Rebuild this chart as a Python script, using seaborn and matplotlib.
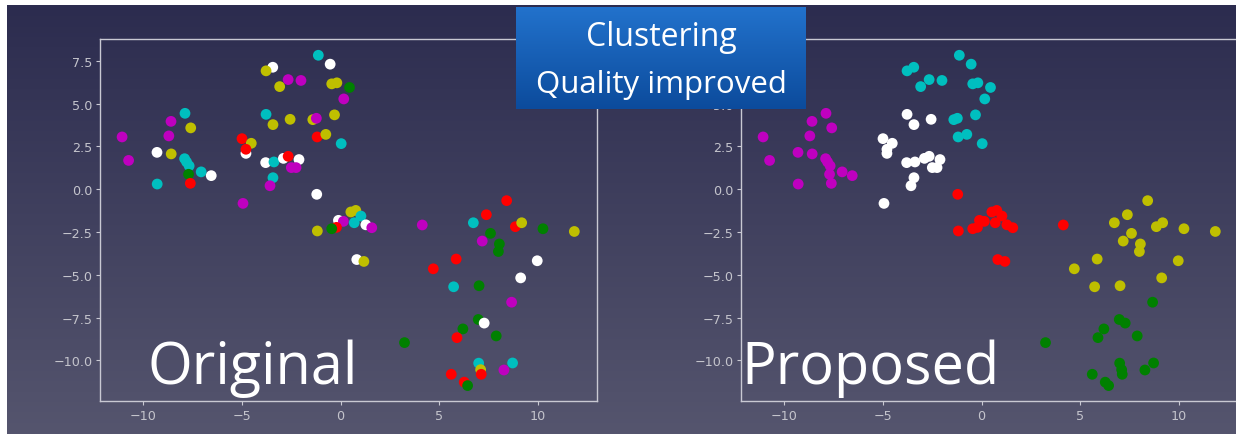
import numpy as np
import pandas as pd
import seaborn as sns
import matplotlib.pyplot as plt

# point positions (same embedding in both panels)
xs = [-1.13, -0.53, -3.44, -3.78, -2.66, -2.01, -3.09, -0.45, -0.19, 0.45,
      0.16, -7.89, -8.60, -7.60, -3.78, -2.56, -3.43, -1.41, -1.23, -0.31,
      -11.08, -8.71, -5.00, -4.53, -1.19, -0.75, 0.03, -4.80, -4.80, -10.75,
      -9.31, -8.59, -7.91, -7.81, -7.68, -7.71, -7.07, -6.56, -7.62, -9.30,
      -3.80, -3.38, -2.90, -2.66, -2.11, -2.50, -2.26, -3.43, -3.58, -1.21,
      -4.95, 0.52, 0.77, 1.03, -0.11, 0.14, 0.69, 1.28, 1.58, -0.21,
      -0.45, -1.18, 8.42, 4.14, 7.39, 6.73, 8.86, 9.18, 10.26, 11.85,
      7.60, 7.18, 8.05, 8.00, 5.86, 0.82, 1.18, 4.70, 9.97, 9.13,
      5.73, 7.02, 8.67, 6.98, 7.28, 6.20, 7.89, 5.90, 3.24, 7.00,
      7.10, 7.13, 8.28, 8.72, 5.61, 6.27, 6.44]
ys = [7.82, 7.30, 7.12, 6.91, 6.40, 6.35, 5.99, 6.15, 6.21, 5.94,
      5.27, 4.43, 3.96, 3.58, 4.37, 4.08, 3.77, 4.06, 4.14, 4.34,
      3.05, 3.11, 2.95, 2.68, 3.05, 3.20, 2.66, 2.09, 2.33, 1.68,
      2.15, 2.06, 1.78, 1.59, 1.36, 0.87, 1.01, 0.79, 0.34, 0.30,
      1.55, 1.59, 1.80, 1.92, 1.73, 1.26, 1.26, 0.67, 0.20, -0.30,
      -0.83, -1.33, -1.24, -1.57, -1.82, -1.88, -1.96, -2.08, -2.25, -2.23,
      -2.31, -2.44, -0.67, -2.09, -1.49, -1.96, -2.19, -1.96, -2.31, -2.47,
      -2.58, -3.03, -3.20, -3.64, -4.08, -4.11, -4.22, -4.65, -4.18, -5.18,
      -5.70, -5.64, -6.60, -7.61, -7.82, -8.16, -8.57, -8.67, -8.96, -10.16,
      -10.54, -10.81, -10.56, -10.15, -10.81, -11.27, -11.47]

# cluster labels
original = ['c', 'w', 'w', 'y', 'm', 'm', 'y', 'y', 'y', 'g',
            'm', 'c', 'm', 'y', 'c', 'y', 'y', 'y', 'm', 'y',
            'm', 'm', 'r', 'y', 'r', 'y', 'c', 'w', 'r', 'm',
            'w', 'y', 'c', 'c', 'c', 'g', 'c', 'w', 'r', 'c',
            'w', 'c', 'w', 'r', 'w', 'm', 'm', 'c', 'm', 'w',
            'm', 'y', 'y', 'c', 'w', 'm', 'c', 'w', 'm', 'r',
            'g', 'y', 'r', 'm', 'r', 'c', 'r', 'y', 'g', 'y',
            'g', 'm', 'g', 'g', 'r', 'w', 'y', 'r', 'w', 'w',
            'c', 'g', 'm', 'g', 'w', 'g', 'g', 'r', 'g', 'c',
            'y', 'r', 'm', 'c', 'r', 'r', 'g']
proposed = ['c', 'c', 'c', 'c', 'c', 'c', 'c', 'c', 'c', 'c',
            'c', 'm', 'm', 'm', 'w', 'w', 'w', 'c', 'c', 'c',
            'm', 'm', 'w', 'w', 'c', 'c', 'c', 'w', 'w', 'm',
            'm', 'm', 'm', 'm', 'm', 'm', 'm', 'm', 'm', 'm',
            'w', 'w', 'w', 'w', 'w', 'w', 'w', 'w', 'w', 'r',
            'w', 'r', 'r', 'r', 'r', 'r', 'r', 'r', 'r', 'r',
            'r', 'r', 'y', 'r', 'y', 'y', 'y', 'y', 'y', 'y',
            'y', 'y', 'y', 'y', 'y', 'r', 'r', 'y', 'y', 'y',
            'y', 'y', 'g', 'g', 'g', 'g', 'g', 'g', 'g', 'g',
            'g', 'g', 'g', 'g', 'g', 'g', 'g']

xticks = [-10, -5, 0, 5, 10]
yticks = [-10.0, -7.5, -5.0, -2.5, 0.0, 2.5, 5.0, 7.5]

palette = {'m': '#bf00bf', 'c': '#00bfbf', 'y': '#bfbf00',
           'g': '#008000', 'r': '#ff0000', 'w': '#ffffff'}
line_col = '#c9c9d3'

W, H = 1236, 435
fig = plt.figure(figsize=(W / 100, H / 100), dpi=100)
fig.patch.set_facecolor('white')

# slide background gradient (white strip on top and left edge)
bg = fig.add_axes([7 / W, 0, 1 - 7 / W, 1 - 6 / H])
grad = np.linspace(0, 1, 256)[:, None]
top = np.array([0x2c, 0x2c, 0x4f]) / 255
bot = np.array([0x55, 0x55, 0x6e]) / 255
img = top + (bot - top) * grad[..., None]
bg.imshow(img, aspect='auto', extent=[0, 1, 0, 1], origin='upper')
bg.axis('off')

df = pd.DataFrame({'x': xs, 'y': ys, 'orig': original, 'prop': proposed})


def panel(left, col, name, tx):
    ax = fig.add_axes([left / W, 33 / H, 497 / W, 362 / H])
    ax.set_facecolor('none')
    sns.scatterplot(data=df, x='x', y='y', hue=col, palette=palette,
                    s=60, linewidth=0, legend=False, ax=ax, zorder=3)
    ax.set_xlim(-12.2, 13.0)
    ax.set_ylim(-12.37, 8.77)
    ax.set_xticks(xticks)
    ax.set_yticks(yticks)
    ax.set_xlabel('')
    ax.set_ylabel('')
    for sp in ax.spines.values():
        sp.set_color(line_col)
        sp.set_linewidth(1.0)
    ax.tick_params(colors=line_col, labelcolor='#c4c4cc', labelsize=9.2,
                   length=3, width=0.8, pad=2.5)
    ax.text(tx, 0.05, name, transform=ax.transAxes, color='white',
            fontsize=41.5, family='Open Sans', ha='left', va='baseline', zorder=5)
    return ax


panel(100, 'orig', 'Original', 0.095)
panel(741, 'prop', 'Proposed', 0.0)

# title box
box = fig.add_axes([516 / W, 1 - 110 / H, 290 / W, 102 / H])
btop = np.array([0x22, 0x72, 0xcc]) / 255
bbot = np.array([0x0c, 0x4b, 0x9c]) / 255
bimg = btop + (bbot - btop) * grad[..., None]
box.imshow(bimg, aspect='auto', extent=[0, 1, 0, 1], origin='upper')
box.set_xlim(0, 1)
box.set_ylim(0, 1)
box.axis('off')
box.text(0.5, 0.71, 'Clustering', color='white', fontsize=23,
         family='Open Sans', ha='center', va='center')
box.text(0.5, 0.25, 'Quality improved', color='white', fontsize=22.5,
         family='Open Sans', ha='center', va='center')

fig.savefig('out.png', dpi=100)
